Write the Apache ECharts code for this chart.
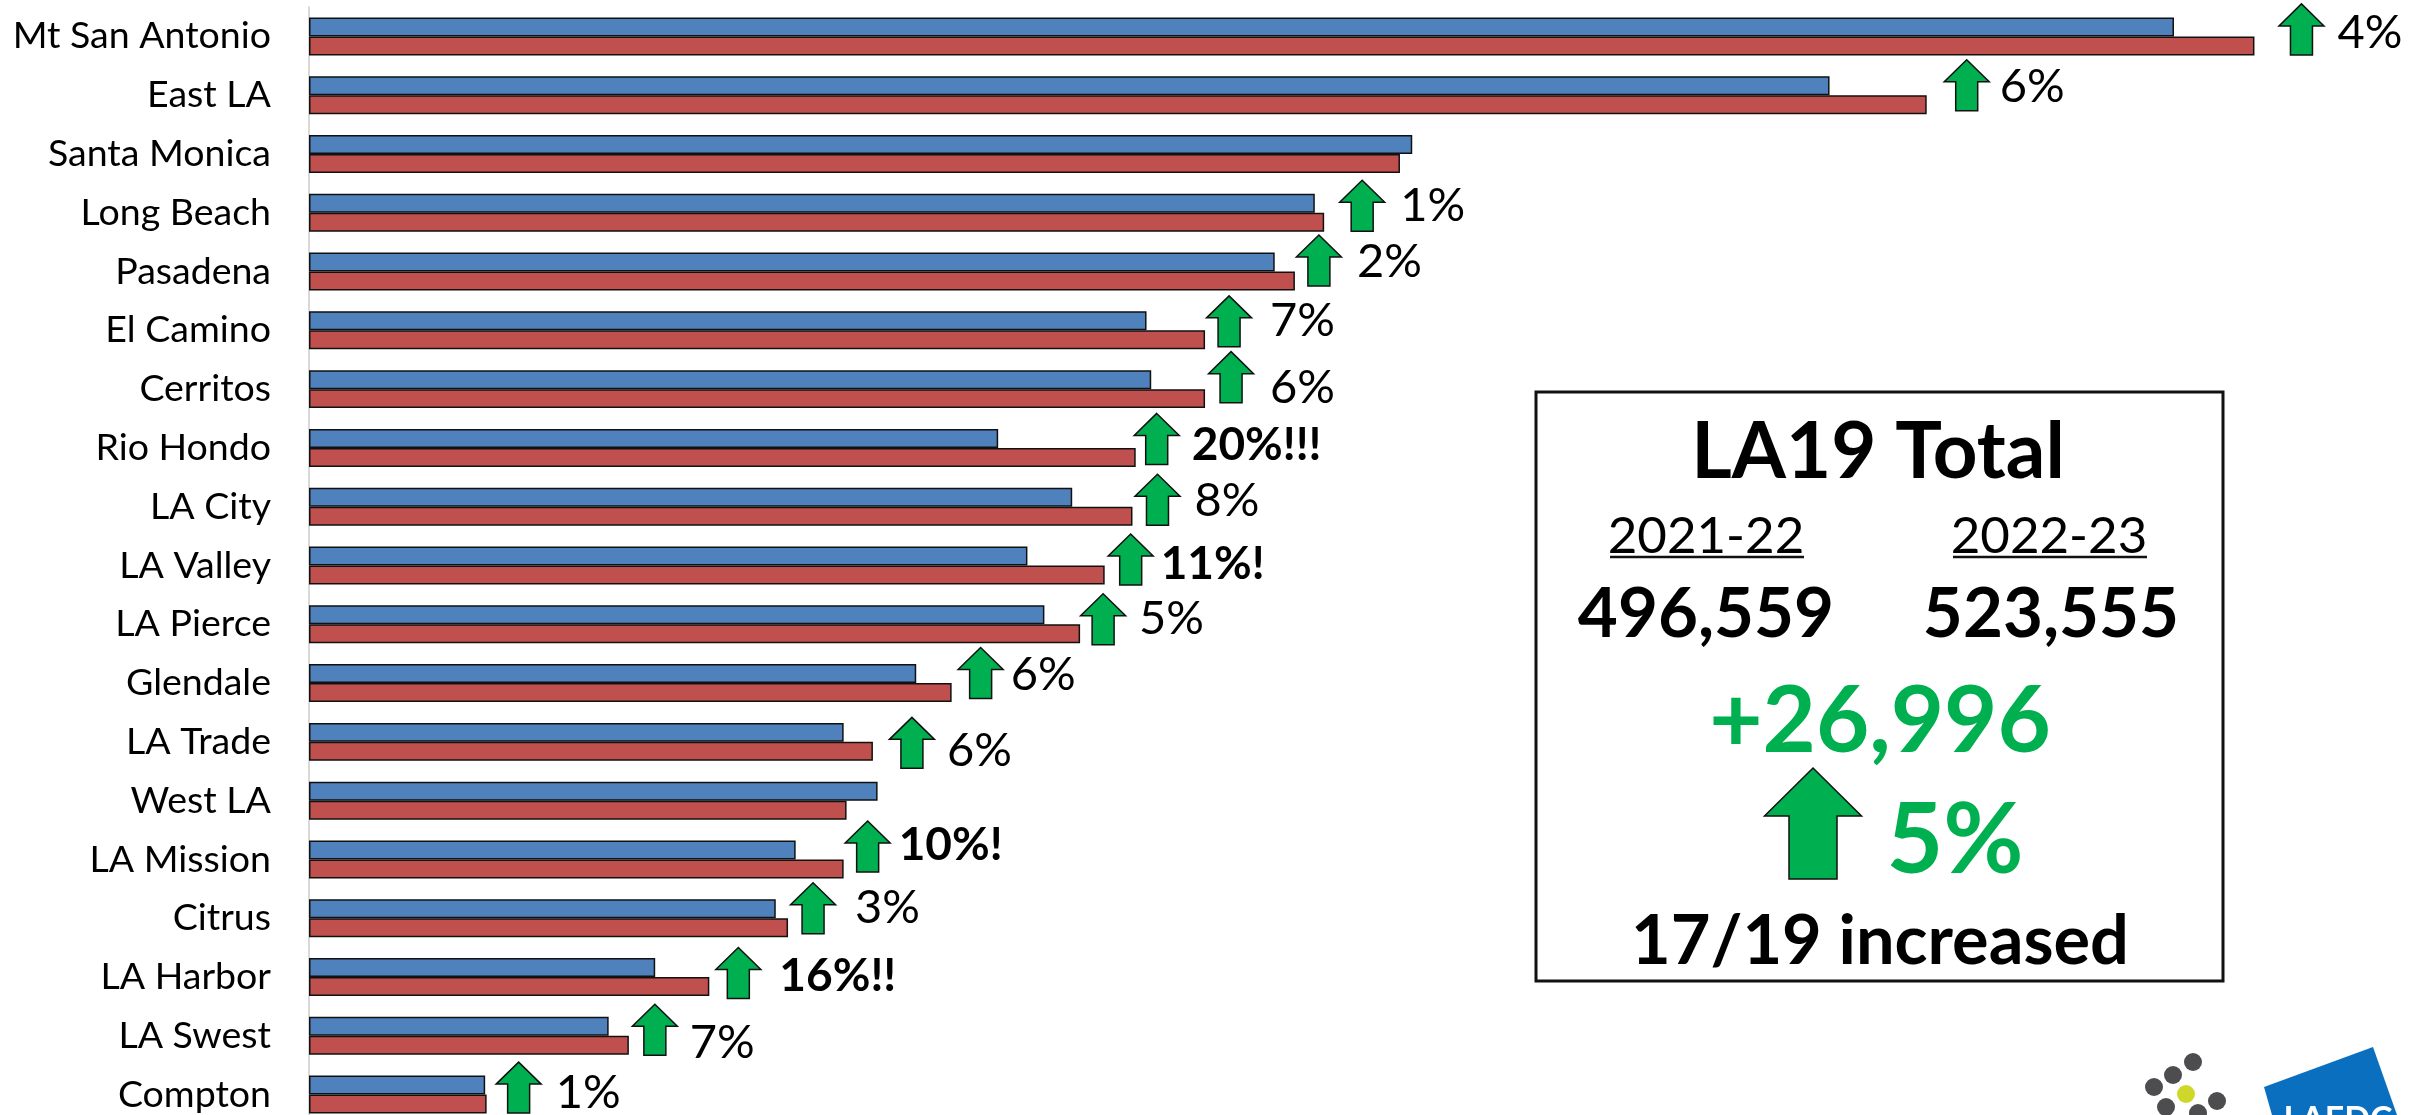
<!DOCTYPE html>
<html><head><meta charset="utf-8">
<style>html,body{margin:0;padding:0;background:#fff}#c{width:2422px;height:1115px}</style>
<script src="https://cdn.jsdelivr.net/npm/echarts@6/dist/echarts.min.js"></script>
</head><body><div id="c"></div>
<script>
const categories = ["Mt San Antonio","East LA","Santa Monica","Long Beach","Pasadena","El Camino","Cerritos","Rio Hondo","LA City","LA Valley","LA Pierce","Glendale","LA Trade","West LA","LA Mission","Citrus","LA Harbor","LA Swest","Compton"];
const enrol2122 = [63730,51960,37700,34370,33000,28620,28780,23550,26080,24550,25130,20750,18270,19430,16630,15950,11830,10240,6020];
const enrol2223 = [66480,55280,37280,34690,33690,30620,30620,28250,28140,27190,26350,21960,19270,18370,18270,16370,13680,10930,6070];
const changeLabels = ["4%","6%",null,"1%","2%","7%","6%","20%!!!","8%","11%!","5%","6%","6%",null,"10%!","3%","16%!!","7%","1%"];
const emphasised = [0,0,0,0,0,0,0,1,0,1,0,0,0,0,1,0,1,0,0];
const totalPrior = "496,559", totalCurrent = "523,555", totalDelta = "+26,996", totalPct = "5%";
const periods = ["2021-22","2022-23"];
const boxTitle = "LA19 Total", boxFoot = "17/19 increased";

// annotation layout, px offsets from the longer bar's end and the category centre
const arrowDx = [47,40,0,38,24,24,26,21,25,26,23,29,39,0,24,25,29,26,32];
const arrowDy = [-7,-10,0,-7,-11,-9,-12,-9,-7,-6,-5,-10,1,0,-13,-10,-4,-6,-7];
const textDx  = [36,33,0,38,38,41,39,35,37,30,36,30,35,0,31,42,41,35,37];
const textDy  = [-4,-8,0,-7,-10,-9,-1,-3,-6,-1,-5,-8,9,0,-14,-10,-1,7,-2];

const FONT = 'Lato';
const GREEN = '#00B050';
function arrowPts(cx, top, bottom, w, sw, hh){
  return [[cx,top],[cx+w/2,top+hh],[cx+sw/2,top+hh],[cx+sw/2,bottom],[cx-sw/2,bottom],[cx-sw/2,top+hh],[cx-w/2,top+hh]];
}
const chart = echarts.init(document.getElementById('c'), null, {renderer:'canvas'});
const barStyle = c => ({color:c,borderColor:'#111',borderWidth:1.5});
function txt(t,x,y,size,opt){
  opt = opt||{};
  return {type:'text',x:x,y:y,z:20,style:{text:t,fontFamily:FONT,fontSize:size,fontWeight:opt.w||'bold',fill:opt.c||'#000',align:'center',verticalAlign:'middle'}};
}
const dots = [[2193,1062],[2173,1075],[2154,1087],[2217,1101],[2166,1107],[2198,1113]];
chart.setOption({
  animation:false,
  backgroundColor:'#fff',
  grid:{left:309,top:7,width:2107,height:1117,containLabel:false,outerBoundsMode:'none'},
  xAxis:{type:'value',min:0,max:72000,show:false},
  yAxis:{type:'category',data:categories,inverse:true,
    axisLine:{show:true,lineStyle:{color:'#D9D9D9',width:2}},
    axisTick:{show:false},
    axisLabel:{color:'#000',fontFamily:FONT,fontSize:37.5,margin:38,interval:0,padding:[3,0,0,0]}},
  series:[
    {type:'bar',name:'2021-22',data:enrol2122,barGap:0,barCategoryGap:'35.4%',itemStyle:barStyle('#4F81BD')},
    {type:'bar',name:'2022-23',data:enrol2223,itemStyle:barStyle('#C0504D')},
    {type:'custom',name:'change',clip:false,z:10,
     data:categories.map((c,i)=>[Math.max(enrol2122[i],enrol2223[i]),i]),
     encode:{x:0,y:1},
     renderItem:(p,api)=>{
       const i=p.dataIndex;
       if(!changeLabels[i]) return {type:'group',children:[]};
       const pt=api.coord([api.value(0),api.value(1)]);
       const cx=pt[0]+arrowDx[i], cy=pt[1]+arrowDy[i];
       return {type:'group',children:[
         {type:'polygon',shape:{points:arrowPts(cx,cy-25.5,cy+25.5,45,22,22)},style:{fill:GREEN,stroke:'#111',lineWidth:1.5}},
         {type:'text',x:cx+textDx[i],y:pt[1]+textDy[i],style:{text:changeLabels[i],fontFamily:FONT,
           fontSize:emphasised[i]?46:47,fontWeight:emphasised[i]?'bold':'normal',fill:'#000',align:'left',verticalAlign:'middle'}}
       ]};
     }}
  ],
  graphic:[
    {type:'rect',z:15,shape:{x:1536,y:392,width:687,height:589},style:{fill:'#fff',stroke:'#111',lineWidth:3}},
    txt(boxTitle,1878,453,78),
    txt(periods[0],1706,537,51,{w:'normal'}),
    txt(periods[1],2049,537,51,{w:'normal'}),
    {type:'line',z:20,shape:{x1:1610,y1:557,x2:1804,y2:557},style:{stroke:'#111',lineWidth:2.5}},
    {type:'line',z:20,shape:{x1:1953,y1:557,x2:2147,y2:557},style:{stroke:'#111',lineWidth:2.5}},
    txt(totalPrior,1706,615,69),
    txt(totalCurrent,2051,615,69),
    txt(totalDelta,1880,722,92,{c:GREEN}),
    {type:'polygon',z:20,shape:{points:arrowPts(1813,768,879,97,48,48)},style:{fill:GREEN,stroke:'#111',lineWidth:1.5}},
    txt(totalPct,1955,841,98,{c:GREEN}),
    txt(boxFoot,1880,942,68.5),
    ...dots.map(d=>({type:'circle',shape:{cx:d[0],cy:d[1],r:9},style:{fill:'#4D4D4F'}})),
    {type:'circle',shape:{cx:2186,cy:1094,r:9},style:{fill:'#CFD82A'}},
    {type:'polygon',shape:{points:[[2373,1047],[2264,1087],[2272,1115],[2397,1115]]},style:{fill:'#0B6FBF'}},
    {type:'text',x:2338,y:1120,style:{text:'LAEDC',fontFamily:FONT,fontSize:34,fontWeight:'bold',fill:'#fff',align:'center',verticalAlign:'middle'}}
  ]
});
</script></body></html>
